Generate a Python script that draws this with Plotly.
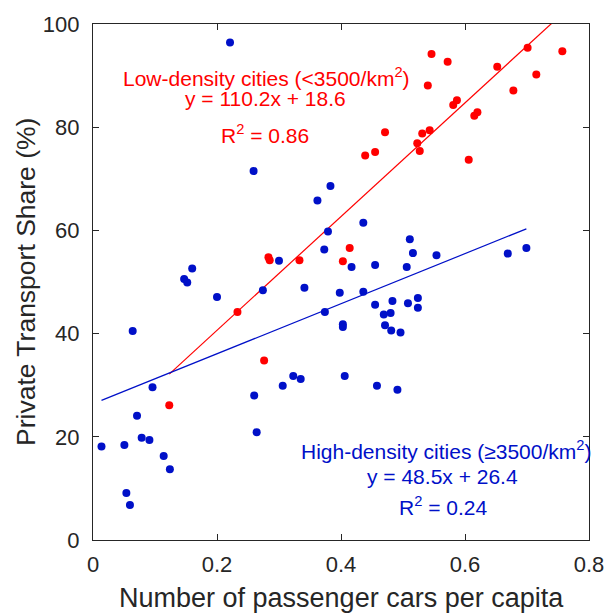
import plotly.graph_objects as go

# High-density cities (blue)
high_x = [0.221, 0.259, 0.362, 0.383, 0.379, 0.373, 0.300, 0.160, 0.147, 0.152,
          0.200, 0.274, 0.341, 0.374, 0.064, 0.323, 0.335, 0.306, 0.096, 0.260,
          0.071, 0.264, 0.0785, 0.091, 0.0137, 0.0506, 0.114, 0.124, 0.0538, 0.0596,
          0.436, 0.511, 0.516, 0.554, 0.669, 0.699, 0.417, 0.455, 0.506,
          0.398, 0.436, 0.455, 0.483, 0.508, 0.524, 0.524, 0.469, 0.480,
          0.403, 0.403, 0.471, 0.481, 0.496, 0.406, 0.458, 0.491]
high_y = [96.4, 71.5, 65.8, 68.6, 59.8, 56.3, 54.1, 52.6, 50.6, 49.9,
          47.1, 48.4, 48.9, 44.2, 40.5, 31.8, 31.2, 29.9, 29.6, 28.0,
          24.1, 20.9, 19.8, 19.4, 18.1, 18.4, 16.3, 13.7, 9.1, 6.8,
          61.5, 58.3, 55.6, 55.2, 55.5, 56.6, 52.9, 53.3, 52.9,
          47.9, 48.1, 45.6, 46.3, 45.9, 46.9, 45.0, 43.7, 44.0,
          41.8, 41.3, 41.6, 40.6, 40.2, 31.8, 29.9, 29.1]

# Low-density cities (red)
low_x = [0.283, 0.285, 0.333, 0.233, 0.276, 0.123, 0.414, 0.403,
         0.546, 0.572, 0.701, 0.757, 0.652, 0.715, 0.540, 0.678, 0.587, 0.581,
         0.620, 0.615, 0.471, 0.543, 0.531, 0.523, 0.527, 0.455, 0.439, 0.606]
low_y = [54.8, 54.2, 54.2, 44.2, 34.8, 26.1, 56.6, 54.0,
         94.2, 92.7, 95.4, 94.7, 91.7, 90.2, 88.1, 87.1, 85.2, 84.3,
         82.9, 82.2, 79.0, 79.4, 78.8, 76.9, 75.4, 75.2, 74.5, 73.7]

low_slope, low_icpt = 110.2, 18.6
high_slope, high_icpt = 48.5, 26.4

x_ticks = [0, 0.2, 0.4, 0.6, 0.8]
y_ticks = [0, 20, 40, 60, 80, 100]

BLUE = "#0010c8"
RED = "#ff0000"
AX = "#262626"
FONT = "Liberation Sans, Arial, sans-serif"

fig = go.Figure()

lx = [min(low_x), max(low_x)]
hx = [min(high_x), max(high_x)]
fig.add_trace(go.Scatter(x=lx, y=[low_slope * v + low_icpt for v in lx], mode="lines",
                         line=dict(color=RED, width=1.2), showlegend=False, hoverinfo="skip"))
fig.add_trace(go.Scatter(x=hx, y=[high_slope * v + high_icpt for v in hx], mode="lines",
                         line=dict(color=BLUE, width=1.2), showlegend=False, hoverinfo="skip"))
fig.add_trace(go.Scatter(x=high_x, y=high_y, mode="markers",
                         marker=dict(color=BLUE, size=8), showlegend=False, cliponaxis=False))
fig.add_trace(go.Scatter(x=low_x, y=low_y, mode="markers",
                         marker=dict(color=RED, size=8), showlegend=False, cliponaxis=False))

def ann(text, x, y, color):
    fig.add_annotation(text=text, x=x, y=y, xref="x", yref="y", showarrow=False,
                       xanchor="center", yanchor="middle",
                       font=dict(family=FONT, size=21, color=color))

ann("Low-density cities (&lt;3500/km<sup>2</sup>)", 0.280, 89.8, RED)
ann("y = 110.2x + 18.6", 0.278, 85.5, RED)
ann("R<sup>2</sup> = 0.86", 0.278, 78.6, RED)
ann("High-density cities (≥3500/km<sup>2</sup>)", 0.570, 17.4, BLUE)
ann("y = 48.5x + 26.4", 0.564, 12.3, BLUE)
ann("R<sup>2</sup> = 0.24", 0.564, 6.5, BLUE)

# axis titles as annotations for precise placement
fig.add_annotation(text="Number of passenger cars per capita", x=0.5, y=0, xref="paper", yref="paper",
                   xanchor="center", yanchor="middle", yshift=-58, showarrow=False,
                   font=dict(family=FONT, size=27, color=AX))
fig.add_annotation(text="Private Transport Share (%)", x=0, y=0.5, xref="paper", yref="paper",
                   xanchor="center", yanchor="middle", xshift=-67, textangle=-90, showarrow=False,
                   font=dict(family=FONT, size=26.5, color=AX))

axis_common = dict(showgrid=False, zeroline=False, showline=True, linecolor=AX, linewidth=1.3,
                   mirror="ticks", ticks="inside", ticklen=6, tickwidth=1.2, tickcolor=AX,
                   tickfont=dict(family=FONT, size=22, color=AX))

fig.update_xaxes(range=[0, 0.8], tickvals=x_ticks, ticktext=[f"{v:g}" for v in x_ticks],
                 ticklabelstandoff=4, **axis_common)
fig.update_yaxes(range=[0, 100], tickvals=y_ticks, ticktext=[str(v) for v in y_ticks],
                 ticklabelstandoff=8, **axis_common)

fig.update_layout(width=616, height=615, margin=dict(l=93, r=17, t=18, b=75),
                  plot_bgcolor="white", paper_bgcolor="white", showlegend=False)

fig.write_html("out.html")
